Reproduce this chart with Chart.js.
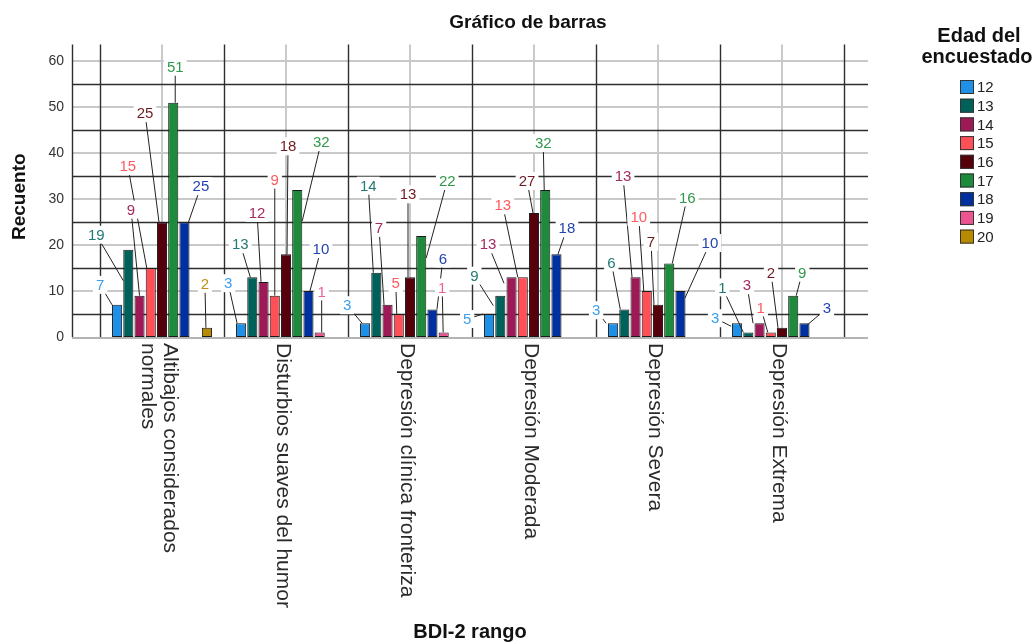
<!DOCTYPE html>
<html>
<head>
<meta charset="utf-8">
<script src="https://cdn.jsdelivr.net/npm/chart.js@4.4.1/dist/chart.umd.min.js"></script>
<style>
  html, body { margin: 0; padding: 0; background: #fff; }
  canvas { display: block; }
</style>
</head>
<body>
<canvas id="chart" width="1036" height="644"></canvas>
<script>
// BDI-2 ranges (x categories); multi-line entries wrap on the rotated axis
const categories = [
  ['Altibajos considerados', 'normales'],
  ['Disturbios suaves del humor'],
  ['Depresión clínica fronteriza'],
  ['Depresión Moderada'],
  ['Depresión Severa'],
  ['Depresión Extrema']
];

// Age of the respondent (one series per age)
const ageGroups = ['12', '13', '14', '15', '16', '17', '18', '19', '20'];

// Counts per BDI-2 range, one array per age (null = no respondents)
const age12 = [7, 3, 3, 5, 3, 3];
const age13 = [19, 13, 14, 9, 6, 1];
const age14 = [9, 12, 7, 13, 13, 3];
const age15 = [15, 9, 5, 13, 10, 1];
const age16 = [25, 18, 13, 27, 7, 2];
const age17 = [51, 32, 22, 32, 16, 9];
const age18 = [25, 10, 6, 18, 10, 3];
const age19 = [null, 1, 1, null, null, null];
const age20 = [2, null, null, null, null, null];
const seriesValues = [age12, age13, age14, age15, age16, age17, age18, age19, age20];

// Y axis tick labels and the darker half-step rules between them
const yTicks = [0, 10, 20, 30, 40, 50, 60];
const yHalfRules = [5, 15, 25, 35, 45, 55];

// Series styling
const barColors = ['#1e90e8', '#00605a', '#9e1a56', '#ff5057', '#55000a', '#1e8a3c', '#0030a0', '#ee5590', '#b88a00'];
const labelColors = ['#3a9ff0', '#207a75', '#a42a62', '#ff5a5f', '#6e1a20', '#2f9a4a', '#2344b0', '#f0609a', '#c09012'];

// Value-label callouts: [dx, dy above bar top, leader end dx, leader end dy] in px
const callouts = [
  [[-17, 20, -5, 0], [-13, 40, -4, 0], [-18, 18, -3, 0], [-22, -5, -6, 0], [-17, 13, -7, 0], [-22, 5, -6, 3]],
  [[-32, 15, -5, 31], [-12, 33, -2, 0], [-8, 87, -3, 0], [-26, 20, -7, 10], [-13, 47, -4, 0], [-26, 45, -5, 0]],
  [[-8.5, 86, 0, 0], [-6.5, 69, -2.5, 0], [-8.5, 77, -3.5, 0], [-23.5, 33, -7.5, 6], [-12.5, 101, -3.5, 0], [-12.5, 38, -6.5, 0]],
  [[-23, 102, -4, 0], [0, 116, 0, 0], [-3, 31, -2, 0], [-20, 72, -5, 0], [-8, 74, -3, 0], [-10, 25, -3, 0]],
  [[-17, 109, -3, 0], [2, 108, 1, 0], [-2, 83, -2, 0], [-7, 32, -1, 0], [-7, 63, -4, 0], [-11, 55, -4, 0]],
  [[2, 36, 2, 0], [24, 48, 5, 31], [26, 55, 5, 22], [-2, 47, -1, 0], [18, 66, 3, 0], [9, 23, 3, 0]],
  [[16.5, 36, 4, 0], [12.5, 42, 1.5, 0], [10.5, 51, 4.5, 0], [10.5, 26, 1.5, 0], [29.5, 48, 4.5, 7], [22.5, 15, 2.5, 2]],
  [null, [2, 41, 2, 0], [-1.5, 45, -0.5, 0], null, null, null],
  [[-2, 44, -1, 0], null, null, null, null, null]
];

const FONT = '"Liberation Sans", Arial, sans-serif';
const FRAME_LEFT = 28;   // frame extends past the first/last category boundary
const FRAME_RIGHT = 24;

function strokeLine(ctx, x1, y1, x2, y2) {
  ctx.beginPath();
  ctx.moveTo(x1, y1);
  ctx.lineTo(x2, y2);
  ctx.stroke();
}

// Grid: light rules at labelled ticks and category centres, dark rules in between
const framePlugin = {
  id: 'frame',
  beforeDatasetsDraw(chart) {
    const { ctx, chartArea: a, scales: { x, y } } = chart;
    const L = a.left - FRAME_LEFT, R = a.right + FRAME_RIGHT;
    const step = x.getPixelForValue(1) - x.getPixelForValue(0);
    ctx.save();
    ctx.strokeStyle = '#c9c9c9';
    ctx.lineWidth = 2;
    yTicks.forEach(v => {
      if (v === 0) return;
      const py = Math.round(y.getPixelForValue(v));
      strokeLine(ctx, L, py, R, py);
    });
    categories.forEach((c, k) => {
      const px = Math.round(x.getPixelForValue(k));
      strokeLine(ctx, px, a.top, px, a.bottom);
    });
    ctx.strokeStyle = '#2e2e2e';
    ctx.lineWidth = 1.4;
    yHalfRules.forEach(v => {
      const py = Math.round(y.getPixelForValue(v)) + 0.5;
      strokeLine(ctx, L, py, R, py);
    });
    for (let k = 0; k <= categories.length; k++) {
      const px = Math.round(x.getPixelForValue(0) - step / 2 + k * step) + 0.5;
      strokeLine(ctx, px, a.top, px, a.bottom);
    }
    strokeLine(ctx, L + 0.5, a.top, L + 0.5, a.bottom);
    ctx.strokeStyle = '#b4b4b4';
    ctx.lineWidth = 2;
    strokeLine(ctx, L, a.bottom + 1, R, a.bottom + 1);
    ctx.restore();
  },
  afterDatasetsDraw(chart) {
    const { ctx } = chart;
    const items = [];
    seriesValues.forEach((vals, i) => {
      const meta = chart.getDatasetMeta(i);
      vals.forEach((v, k) => {
        if (v == null || !callouts[i][k]) return;
        const bar = meta.data[k];
        const p = callouts[i][k];
        items.push({
          text: String(v),
          lx: bar.x + p[0], ly: bar.y - p[1],
          ax: bar.x + p[2], ay: bar.y + p[3],
          color: labelColors[i]
        });
      });
    });
    ctx.save();
    ctx.strokeStyle = '#222';
    ctx.lineWidth = 1;
    items.forEach(it => strokeLine(ctx, it.lx, it.ly, it.ax, it.ay));
    ctx.font = '15px ' + FONT;
    ctx.textAlign = 'center';
    ctx.textBaseline = 'middle';
    items.forEach(it => {
      const w = ctx.measureText(it.text).width + 6;
      ctx.fillStyle = '#fff';
      ctx.fillRect(it.lx - w / 2, it.ly - 9, w, 18);
      ctx.fillStyle = it.color;
      ctx.fillText(it.text, it.lx, it.ly + 1);
    });
    ctx.restore();
  },
  afterDraw(chart) {
    const { ctx, chartArea: a, scales: { x } } = chart;
    const L = a.left - FRAME_LEFT, R = a.right + FRAME_RIGHT;
    ctx.save();
    ctx.fillStyle = '#111';
    ctx.textAlign = 'center';
    ctx.textBaseline = 'middle';
    // chart title
    ctx.font = 'bold 19px ' + FONT;
    ctx.fillText('Gráfico de barras', 528, 23);
    // x axis title
    ctx.font = 'bold 20px ' + FONT;
    ctx.fillText('BDI-2 rango', (L + R) / 2, 632);
    // y axis title
    ctx.save();
    ctx.translate(20, (a.top + a.bottom) / 2 + 6);
    ctx.rotate(-Math.PI / 2);
    ctx.font = 'bold 19px ' + FONT;
    ctx.fillText('Recuento', 0, 0);
    ctx.restore();
    // category labels, reading downward
    ctx.fillStyle = '#2a2a2a';
    ctx.font = '21px ' + FONT;
    ctx.textAlign = 'left';
    categories.forEach((lines, k) => {
      const px = x.getPixelForValue(k);
      ctx.save();
      ctx.translate(px - 3, a.bottom + 6);
      ctx.rotate(Math.PI / 2);
      lines.forEach((t, j) => {
        ctx.fillText(t, 0, (j - (lines.length - 1) / 2) * 22);
      });
      ctx.restore();
    });
    // legend
    ctx.fillStyle = '#111';
    ctx.textAlign = 'center';
    ctx.font = 'bold 20px ' + FONT;
    ctx.fillText('Edad del', 979, 36);
    ctx.fillText('encuestado', 977, 57);
    ctx.font = '15px ' + FONT;
    ctx.textAlign = 'left';
    ageGroups.forEach((g, i) => {
      const cy = 87 + i * 18.7;
      ctx.fillStyle = barColors[i];
      ctx.fillRect(960, cy - 7, 14, 14);
      ctx.strokeStyle = '#333';
      ctx.lineWidth = 1;
      ctx.strokeRect(960.5, cy - 6.5, 13, 13);
      ctx.fillStyle = '#222';
      ctx.fillText(g, 977, cy + 1);
    });
    ctx.restore();
  }
};

new Chart(document.getElementById('chart'), {
  type: 'bar',
  data: {
    labels: categories.map(c => c.join(' ')),
    datasets: seriesValues.map((vals, i) => ({
      label: ageGroups[i],
      data: vals,
      backgroundColor: barColors[i],
      borderColor: '#1a1a1a',
      borderWidth: 1,
      borderSkipped: false,
      barPercentage: 0.9,
      categoryPercentage: 0.815
    }))
  },
  options: {
    responsive: false,
    animation: false,
    devicePixelRatio: 1,
    layout: { padding: { left: 40, right: 192, top: 42, bottom: 307 } },
    scales: {
      x: {
        type: 'category',
        ticks: { display: false },
        grid: { display: false },
        border: { display: false },
        afterFit: s => { s.height = 0; }
      },
      y: {
        min: 0,
        max: 63.7,
        afterBuildTicks: axis => { axis.ticks = yTicks.map(v => ({ value: v })); },
        ticks: { padding: 36, color: '#333', font: { size: 14, family: FONT } },
        grid: { display: false, drawTicks: false },
        border: { display: false },
        afterFit: s => { s.width = 60; }
      }
    },
    plugins: {
      legend: { display: false },
      title: { display: false },
      tooltip: { enabled: false }
    }
  },
  plugins: [framePlugin]
});
</script>
</body>
</html>
